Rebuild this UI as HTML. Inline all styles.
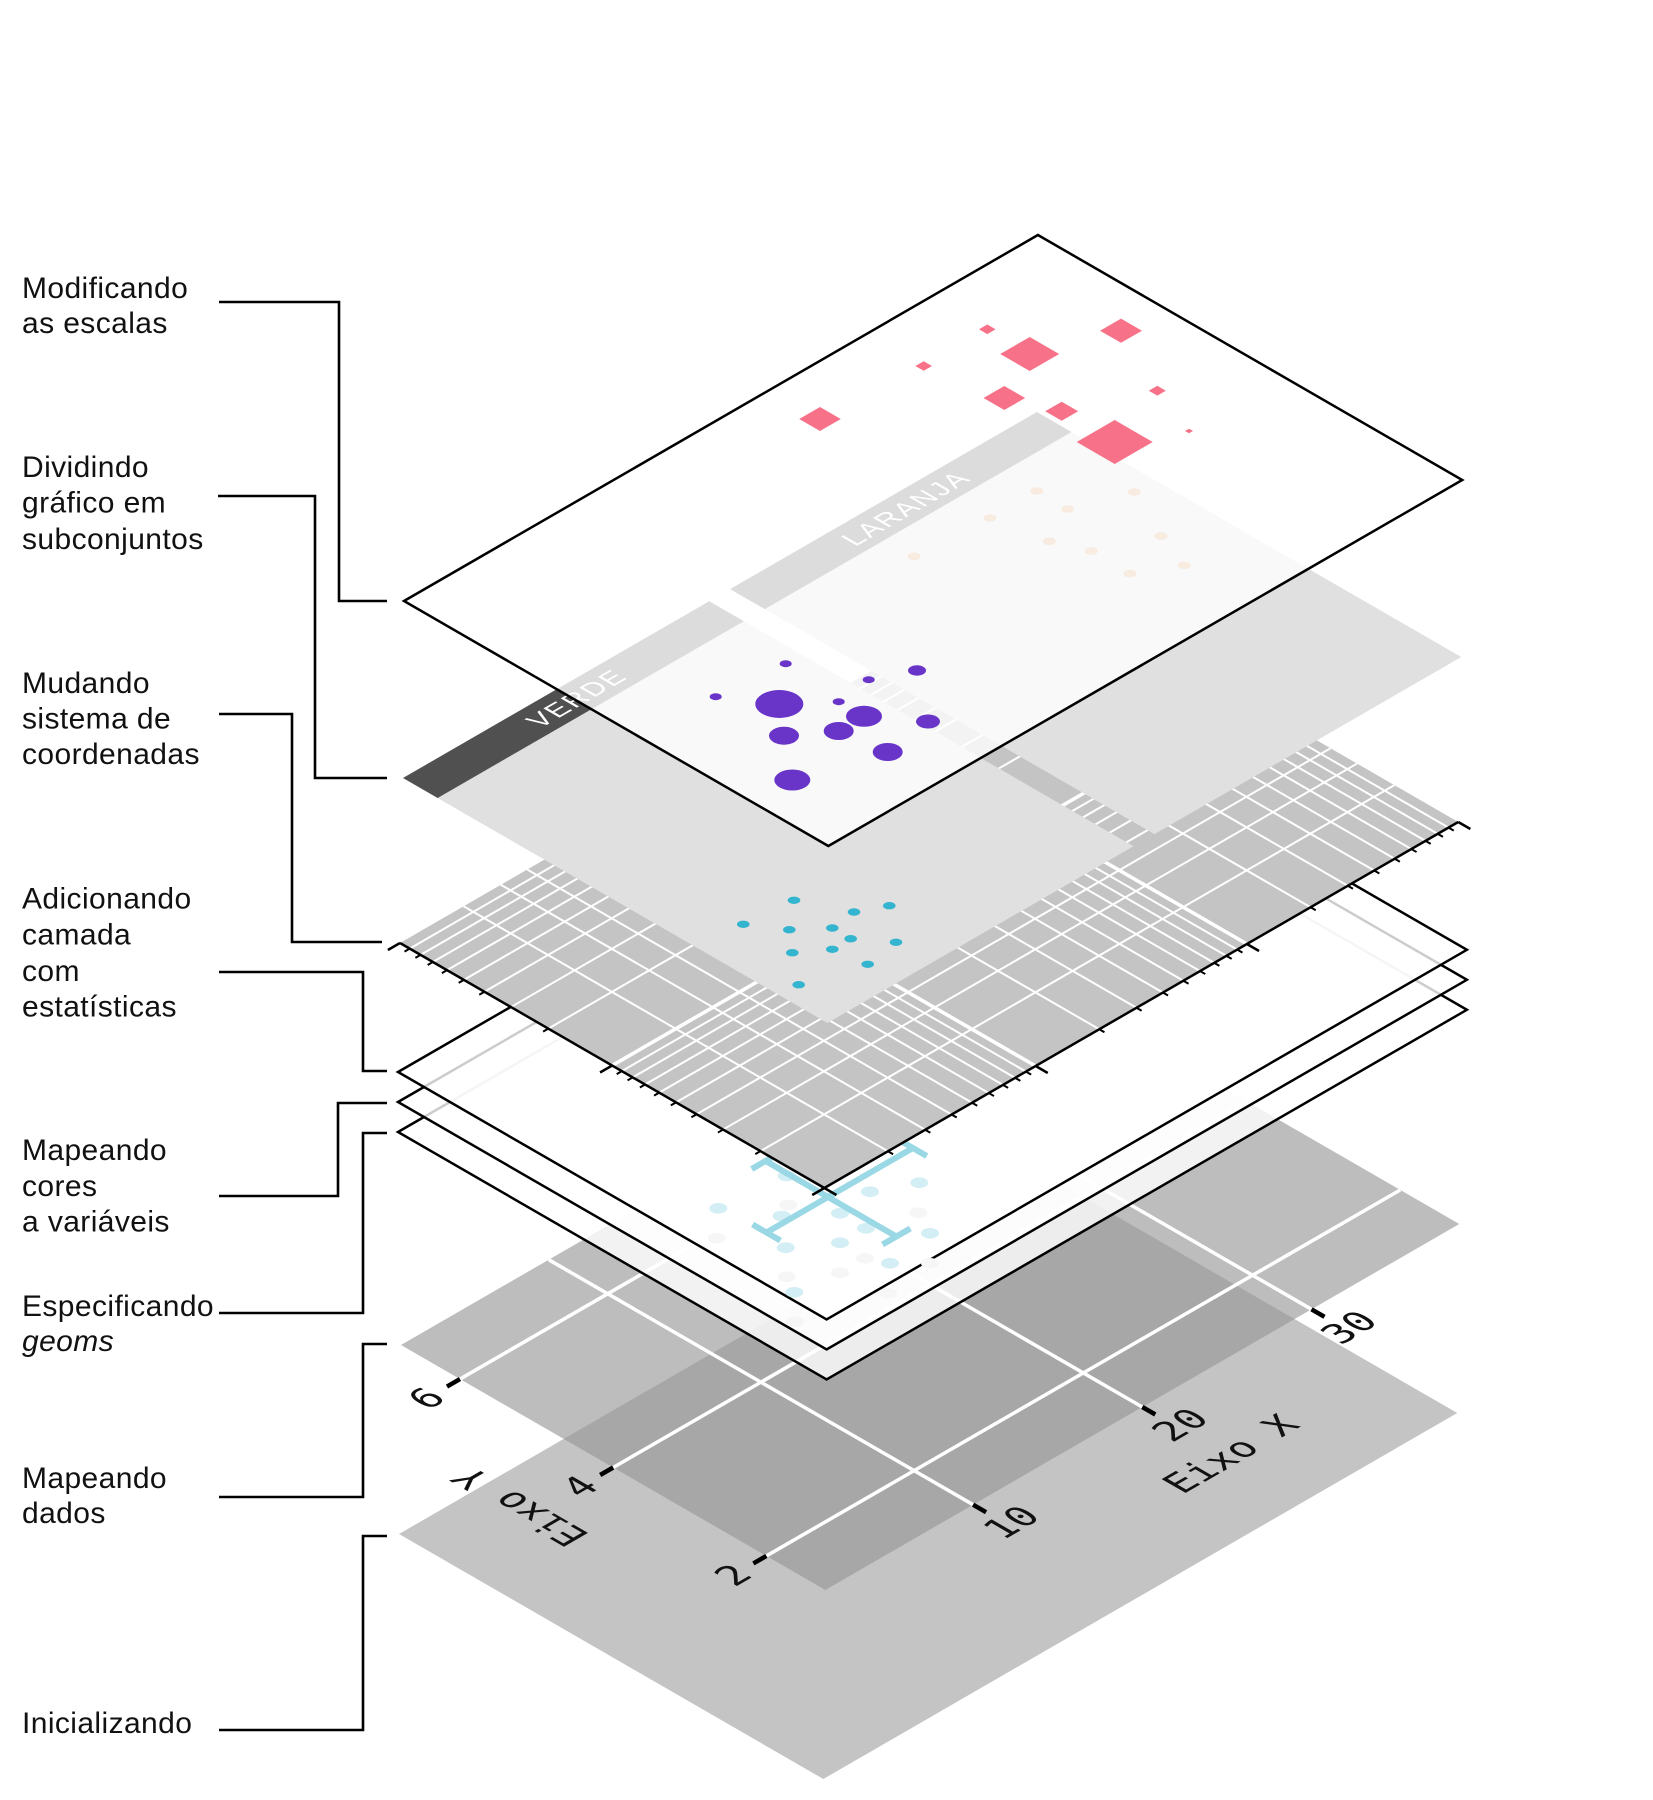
<!DOCTYPE html>
<html>
<head>
<meta charset="utf-8">
<style>
html,body{margin:0;padding:0;background:#fff}
svg{display:block}
svg line, svg path, svg rect, svg polygon{vector-effect:non-scaling-stroke}
</style>
</head>
<body>
<svg xmlns="http://www.w3.org/2000/svg" width="1653" height="1800" viewBox="0 0 1653 1800">
<rect x="0" y="0" width="1653" height="1800" fill="#fff"/>

<!-- Left labels -->
<g font-family="'Liberation Sans', sans-serif" font-size="30" fill="#111" letter-spacing="0.4">
  <text x="22" y="298">Modificando</text>
  <text x="22" y="333">as escalas</text>
  <text x="22" y="477">Dividindo</text>
  <text x="22" y="512.5">gráfico em</text>
  <text x="22" y="549">subconjuntos</text>
  <text x="22" y="693">Mudando</text>
  <text x="22" y="728.5">sistema de</text>
  <text x="22" y="764">coordenadas</text>
  <text x="22" y="908.5">Adicionando</text>
  <text x="22" y="944.5">camada</text>
  <text x="22" y="981">com</text>
  <text x="22" y="1016.5">estatísticas</text>
  <text x="22" y="1160">Mapeando</text>
  <text x="22" y="1196">cores</text>
  <text x="22" y="1231.5">a variáveis</text>
  <text x="22" y="1316">Especificando</text>
  <text x="22" y="1351" font-style="italic">geoms</text>
  <text x="22" y="1488">Mapeando</text>
  <text x="22" y="1523">dados</text>
  <text x="22" y="1733">Inicializando</text>
</g>

<!-- Connectors -->
<g fill="none" stroke="#000" stroke-width="2.6">
  <path d="M219,302 H339 V601 H387"/>
  <path d="M218,496 H315 V778 H387"/>
  <path d="M219,714 H292 V942 H382"/>
  <path d="M219,972 H363 V1071 H387"/>
  <path d="M219,1196 H338 V1103 H387"/>
  <path d="M219,1313 H363 V1133 H387"/>
  <path d="M219,1497 H363 V1344 H387"/>
  <path d="M219,1730 H363 V1536 H387"/>
</g>

<!-- Init layer -->
<g transform="matrix(0.866 -0.5 0.866 0.5 399 1534)">
  <rect width="732" height="490" fill="#c4c4c4"/>
</g>

<!-- Data mapping layer -->
<g transform="matrix(0.866 -0.5 0.866 0.5 401 1345)">
  <rect width="732" height="490" fill="#979797" fill-opacity="0.63"/>
  <path d="M0,68.1H732M0,245H732M0,421.9H732M170.6,0V490M366,0V490M561.4,0V490" stroke="#fff" stroke-width="3.5" fill="none"/>
  <path d="M0,68.1h-15M0,245h-15M0,421.9h-15M170.6,490v15M366,490v15M561.4,490v15" stroke="#000" stroke-width="4.5" fill="none"/>
  <g font-family="'DejaVu Sans Mono', 'Liberation Mono', monospace" font-size="38" fill="#111">
    <text x="-27" y="68.1" text-anchor="end" dominant-baseline="central">6</text>
    <text x="-27" y="245" text-anchor="end" dominant-baseline="central">4</text>
    <text x="-27" y="421.9" text-anchor="end" dominant-baseline="central">2</text>
    <text x="175" y="530" text-anchor="middle" dominant-baseline="central">10</text>
    <text x="370" y="530" text-anchor="middle" dominant-baseline="central">20</text>
    <text x="565" y="530" text-anchor="middle" dominant-baseline="central">30</text>
    <text x="370" y="588" text-anchor="middle" dominant-baseline="central">Eixo X</text>
    <text transform="translate(-93,231) rotate(-90)" text-anchor="middle" dominant-baseline="central">Eixo Y</text>
  </g>
</g>

<!-- Geoms layer -->
<g transform="matrix(0.8747 -0.505 0.8747 0.505 398 1132)">
  <rect width="732" height="490" fill="#fff" fill-opacity="0.8" stroke="#000" stroke-width="2.5"/>
</g>
<!-- Colors layer -->
<g transform="matrix(0.8747 -0.505 0.8747 0.505 398 1102)">
  <rect width="732" height="490" fill="#fff" fill-opacity="0.8" stroke="#000" stroke-width="2.5"/>
</g>
<!-- Stats layer -->
<g transform="matrix(0.8747 -0.505 0.8747 0.505 398 1072)">
  <rect width="732" height="490" fill="#fff" fill-opacity="0.8" stroke="#000" stroke-width="2.5"/>
</g>

<!-- faint gray dots -->
<g fill="#f6f6f6">
  <ellipse cx="788.3" cy="1205" rx="9" ry="5.3"/>
  <ellipse cx="918.3" cy="1212.7" rx="9" ry="5.3"/>
  <ellipse cx="716.7" cy="1238.3" rx="9" ry="5.3"/>
  <ellipse cx="786.7" cy="1276.7" rx="9" ry="5.3"/>
  <ellipse cx="840" cy="1272.7" rx="9" ry="5.3"/>
  <ellipse cx="865" cy="1258.3" rx="9" ry="5.3"/>
  <ellipse cx="930" cy="1263.3" rx="9" ry="5.3"/>
  <ellipse cx="888.3" cy="1293.3" rx="9" ry="5.3"/>
  <ellipse cx="795" cy="1321.7" rx="9" ry="5.3"/>
</g>
<!-- pale cyan dots -->
<g fill="#d3eef4">
  <ellipse cx="786.7" cy="1176" rx="9" ry="5.3"/>
  <ellipse cx="718.3" cy="1208.3" rx="9" ry="5.3"/>
  <ellipse cx="781.7" cy="1216" rx="9" ry="5.3"/>
  <ellipse cx="840" cy="1213.3" rx="9" ry="5.3"/>
  <ellipse cx="870" cy="1191.7" rx="9" ry="5.3"/>
  <ellipse cx="919.3" cy="1182.7" rx="9" ry="5.3"/>
  <ellipse cx="866" cy="1228.3" rx="9" ry="5.3"/>
  <ellipse cx="840" cy="1242.7" rx="9" ry="5.3"/>
  <ellipse cx="785.7" cy="1247.7" rx="9" ry="5.3"/>
  <ellipse cx="930" cy="1233.3" rx="9" ry="5.3"/>
  <ellipse cx="890" cy="1263.3" rx="9" ry="5.3"/>
  <ellipse cx="794.3" cy="1292.3" rx="9" ry="5.3"/>
</g>
<!-- error bars -->
<g stroke="#9ad8e6" stroke-width="6" fill="none" stroke-linecap="butt">
  <path d="M765.6,1161 L896.4,1236.5"/>
  <path d="M751.7,1169 L779.5,1153"/>
  <path d="M882.5,1244.5 L910.3,1228.5"/>
  <path d="M912.9,1148 L766.5,1232.5"/>
  <path d="M899,1140 L926.8,1156"/>
  <path d="M752.6,1224.5 L780.4,1240.5"/>
</g>

<!-- Coordinate grid layer -->
<g transform="matrix(0.866 -0.5 0.866 0.5 400 943)">
  <rect width="732" height="490" fill="#c4c4c4"/>
  <path fill="none" stroke="#fff" stroke-width="2" d="M73.45,0V490M116.42,0V490M146.9,0V490M170.55,0V490M189.87,0V490M206.2,0V490M220.35,0V490M232.83,0V490M317.45,0V490M360.42,0V490M390.9,0V490M414.55,0V490M433.87,0V490M450.2,0V490M464.35,0V490M476.83,0V490M561.45,0V490M604.42,0V490M634.9,0V490M658.55,0V490M677.87,0V490M694.2,0V490M708.35,0V490M720.83,0V490M0,11.21H732M0,23.74H732M0,37.95H732M0,54.35H732M0,73.75H732M0,97.5H732M0,128.11H732M0,171.25H732M0,256.21H732M0,268.74H732M0,282.95H732M0,299.35H732M0,318.75H732M0,342.5H732M0,373.11H732M0,416.25H732"/>
  <path fill="none" stroke="#fff" stroke-width="3.6" d="M244,0V490M488,0V490M0,245H732"/>
  <path fill="none" stroke="#000" stroke-width="2.5" d="M0,0V490H732"/>
  <path fill="none" stroke="#000" stroke-width="2" d="M0,11.21h-6M0,23.74h-6M0,37.95h-6M0,54.35h-6M0,73.75h-6M0,97.5h-6M0,128.11h-6M0,171.25h-6M0,256.21h-6M0,268.74h-6M0,282.95h-6M0,299.35h-6M0,318.75h-6M0,342.5h-6M0,373.11h-6M0,416.25h-6M73.45,490v6M116.42,490v6M146.9,490v6M170.55,490v6M189.87,490v6M206.2,490v6M220.35,490v6M232.83,490v6M317.45,490v6M360.42,490v6M390.9,490v6M414.55,490v6M433.87,490v6M450.2,490v6M464.35,490v6M476.83,490v6M561.45,490v6M604.42,490v6M634.9,490v6M658.55,490v6M677.87,490v6M694.2,490v6M708.35,490v6M720.83,490v6"/>
  <path fill="none" stroke="#000" stroke-width="2.5" d="M0,0h-14M0,245h-14M0,490h-14M0,490v14M244,490v14M488,490v14M732,490v14"/>
</g>

<!-- Facets layer -->
<g transform="matrix(0.866 -0.5 0.866 0.5 403 778)">
  <rect x="0" y="0" width="353.6" height="490" fill="#e0e0e0"/>
  <rect x="377.7" y="0" width="354.3" height="490" fill="#e0e0e0"/>
  <rect x="0" y="0" width="353.6" height="40" fill="#505050"/>
  <rect x="377.7" y="0" width="354.3" height="40" fill="#505050"/>
  <g font-family="'Liberation Sans', sans-serif" font-size="27" fill="#fff" letter-spacing="2" text-anchor="middle" dominant-baseline="central">
    <text x="180" y="21">VERDE</text>
    <text x="560" y="21">LARANJA</text>
  </g>
</g>
<!-- teal dots (VERDE) -->
<g fill="#33b5cf">
  <ellipse cx="794" cy="900.3" rx="6.3" ry="3.7"/>
  <ellipse cx="743.3" cy="924.3" rx="6.3" ry="3.7"/>
  <ellipse cx="789.3" cy="929.7" rx="6.3" ry="3.7"/>
  <ellipse cx="832.3" cy="928" rx="6.3" ry="3.7"/>
  <ellipse cx="854" cy="912" rx="6.3" ry="3.7"/>
  <ellipse cx="889.3" cy="905.7" rx="6.3" ry="3.7"/>
  <ellipse cx="850.7" cy="938.7" rx="6.3" ry="3.7"/>
  <ellipse cx="792.3" cy="952.7" rx="6.3" ry="3.7"/>
  <ellipse cx="832.3" cy="949.3" rx="6.3" ry="3.7"/>
  <ellipse cx="896" cy="942.3" rx="6.3" ry="3.7"/>
  <ellipse cx="867.7" cy="964.3" rx="6.3" ry="3.7"/>
  <ellipse cx="798.7" cy="984.7" rx="6.3" ry="3.7"/>
</g>
<!-- orange dots (LARANJA) -->
<g fill="#dc9b64">
  <ellipse cx="1036.7" cy="491" rx="6.5" ry="3.8"/>
  <ellipse cx="1134.3" cy="492" rx="6.5" ry="3.8"/>
  <ellipse cx="1067.7" cy="509" rx="6.5" ry="3.8"/>
  <ellipse cx="990" cy="518" rx="6.5" ry="3.8"/>
  <ellipse cx="1049.3" cy="541.3" rx="6.5" ry="3.8"/>
  <ellipse cx="1161" cy="536" rx="6.5" ry="3.8"/>
  <ellipse cx="914" cy="556.3" rx="6.5" ry="3.8"/>
  <ellipse cx="1091.3" cy="551" rx="6.5" ry="3.8"/>
  <ellipse cx="1184.3" cy="565.3" rx="6.5" ry="3.8"/>
  <ellipse cx="1130" cy="573.7" rx="6.5" ry="3.8"/>
</g>

<!-- Top (scales) layer -->
<g transform="matrix(0.866 -0.5 0.866 0.5 404 601)">
  <rect width="732" height="490" fill="#fff" fill-opacity="0.8" stroke="#000" stroke-width="2.5"/>
</g>
<!-- pink diamonds -->
<g fill="#f77288">
  <polygon points="979,329.3 987.3,324.5 995.6,329.3 987.3,334.1"/>
  <polygon points="1100,330.7 1121,318.6 1142,330.7 1121,342.8"/>
  <polygon points="1000.2,354 1029.7,337 1059.2,354 1029.7,371"/>
  <polygon points="915.3,366 923.7,361.2 932,366 923.7,370.8"/>
  <polygon points="1148.8,390.7 1157.3,385.8 1165.8,390.7 1157.3,395.6"/>
  <polygon points="983.5,398 1004.3,386 1025.2,398 1004.3,410"/>
  <polygon points="1045.2,411.3 1061.7,401.8 1078.2,411.3 1061.7,420.8"/>
  <polygon points="799.2,419 820,407 840.8,419 820,431"/>
  <polygon points="1076.7,442 1114.7,420 1152.7,442 1114.7,464"/>
  <polygon points="1185,431 1189,428.7 1193,431 1189,433.3"/>
</g>
<!-- purple circles -->
<g fill="#6935c9">
  <ellipse cx="785.7" cy="663.7" rx="6" ry="3.5"/>
  <ellipse cx="715.7" cy="696.7" rx="6" ry="3.5"/>
  <ellipse cx="779.3" cy="704" rx="24" ry="14"/>
  <ellipse cx="838.7" cy="701.7" rx="6" ry="3.5"/>
  <ellipse cx="868.7" cy="679.7" rx="6" ry="3.5"/>
  <ellipse cx="917" cy="670.5" rx="9" ry="5.2"/>
  <ellipse cx="864" cy="716.3" rx="18" ry="10.5"/>
  <ellipse cx="784" cy="735.7" rx="15" ry="9"/>
  <ellipse cx="838.7" cy="731" rx="15" ry="9"/>
  <ellipse cx="887.7" cy="752" rx="15" ry="9"/>
  <ellipse cx="792.3" cy="780" rx="18" ry="10.5"/>
  <ellipse cx="928" cy="721.5" rx="12" ry="7"/>
</g>
</svg>
</body>
</html>
